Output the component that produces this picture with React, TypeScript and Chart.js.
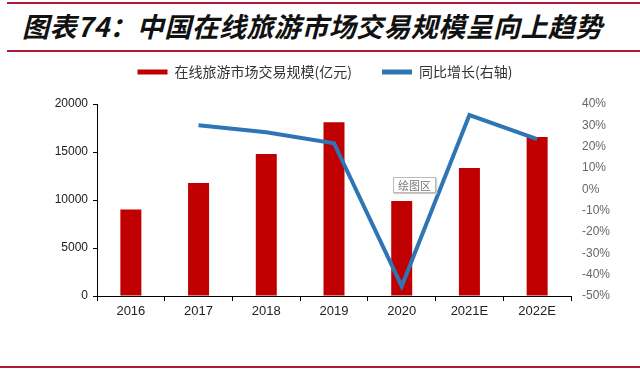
import React, { useEffect, useRef } from "react";
import { Chart, registerables } from "chart.js";

Chart.register(...registerables);

const categories = ["2016", "2017", "2018", "2019", "2020", "2021E", "2022E"];
const scaleValues = [9000, 11770, 14800, 18100, 9900, 13330, 16560];
const growthValues: (number | null)[] = [null, 30, 26.8, 21.6, -45.4, 34.8, 23.5];
const barLabel = "在线旅游市场交易规模(亿元)";
const lineLabel = "同比增长(右轴)";
const titleText = "图表74：中国在线旅游市场交易规模呈向上趋势";

const RED = "#C00000";
const BLUE = "#2E75B6";
const RULE = "#B0183C";

export default function App() {
  const ref = useRef<HTMLCanvasElement | null>(null);

  useEffect(() => {
    if (!ref.current) return;
    const legendHeightPlugin = {
      id: "legendHeight",
      beforeLayout(chart: any) {
        const lg = chart.legend;
        if (lg && !lg.__wrapped) {
          const orig = lg.fit;
          lg.fit = function () {
            orig.call(this);
            this.height = 69;
            if (this.lineWidths && this.lineWidths.length) this.lineWidths[0] -= 10;
          };
          lg.__wrapped = true;
        }
      },
    };
    const chart = new Chart(ref.current, {
      type: "bar",
      data: {
        labels: categories,
        datasets: [
          {
            type: "bar",
            label: barLabel,
            data: scaleValues,
            backgroundColor: RED,
            borderWidth: 0,
            barPercentage: 0.31,
            categoryPercentage: 1,
            yAxisID: "y",
            order: 2,
          },
          {
            type: "line",
            label: lineLabel,
            data: growthValues,
            borderColor: BLUE,
            backgroundColor: BLUE,
            borderWidth: 4,
            pointRadius: 0,
            tension: 0,
            yAxisID: "y1",
            order: 1,
          } as any,
        ],
      },
      options: {
        responsive: false,
        animation: false,
        layout: { padding: 0 },
        plugins: {
          tooltip: { enabled: false },
          legend: {
            display: true,
            position: "top",
            labels: {
              boxWidth: 30,
              boxHeight: 5,
              padding: 30,
              color: "#333",
              font: { family: "'Noto Sans CJK SC'", size: 14 },
              sort: (a: any, b: any) => a.datasetIndex - b.datasetIndex,
              generateLabels: (c: any) =>
                Chart.defaults.plugins.legend.labels
                  .generateLabels(c)
                  .map((l: any) => ({ ...l, lineWidth: 0 })),
            },
          },
        },
        scales: {
          x: {
            offset: true,
            grid: {
              display: true,
              offset: true,
              drawOnChartArea: false,
              drawTicks: true,
              tickLength: 5,
              color: "#000",
            },
            border: { display: true, color: "#000", width: 1 },
            ticks: {
              color: "#222",
              padding: 3,
              font: { family: "'Liberation Sans'", size: 13 },
            },
            afterFit: (s: any) => {
              s.height = 40;
            },
          },
          y: {
            position: "left",
            min: 0,
            max: 20000,
            grid: {
              display: true,
              drawOnChartArea: false,
              drawTicks: true,
              tickLength: 4,
              color: "#000",
            },
            border: { display: true, color: "#000", width: 1 },
            ticks: {
              stepSize: 5000,
              color: "#222",
              padding: 5,
              font: { family: "'Liberation Sans'", size: 12 },
              callback: (v: any) => String(v),
            },
            afterFit: (s: any) => {
              s.width = 97;
            },
          },
          y1: {
            position: "right",
            min: -50,
            max: 40,
            grid: { display: false, drawOnChartArea: false, drawTicks: false },
            border: { display: false },
            ticks: {
              stepSize: 10,
              color: "#666",
              padding: 11,
              font: { family: "'Liberation Sans'", size: 12 },
              callback: (v: any) => `${v}%`,
            },
            afterFit: (s: any) => {
              s.width = 69;
            },
          },
        },
      },
      plugins: [legendHeightPlugin],
    });
    return () => chart.destroy();
  }, []);

  return (
    <div
      style={{
        position: "absolute",
        left: 0,
        top: 0,
        width: 640,
        height: 370,
        background: "#fff",
        overflow: "hidden",
      }}
    >
      <div style={{ position: "absolute", left: 7, right: 0, top: 2, height: 2, background: RULE }} />
      <div
        style={{
          position: "absolute",
          left: 22,
          top: 9,
          fontFamily: "'Noto Sans CJK SC'",
          fontWeight: 700,
          fontStyle: "italic",
          fontSize: 27,
          letterSpacing: "0.4px",
          lineHeight: "34px",
          color: "#111",
          whiteSpace: "nowrap",
        }}
      >
        {titleText}
      </div>
      <div style={{ position: "absolute", left: 7, right: 0, top: 50, height: 2, background: RULE }} />
      <div style={{ position: "absolute", left: 0, top: 35 }}>
        <canvas ref={ref} width={640} height={301} style={{ display: "block" }} />
      </div>
      <div
        style={{
          position: "absolute",
          left: 393,
          top: 177,
          border: "1px solid #bbb",
          boxShadow: "1px 1px 1px #ccc",
          background: "#fff",
          color: "#777",
          fontFamily: "'Noto Sans CJK SC'",
          fontSize: 11,
          lineHeight: "14px",
          padding: "0px 4px",
        }}
      >
        绘图区
      </div>
      <div style={{ position: "absolute", left: 0, right: 0, top: 366, height: 2, background: RULE }} />
    </div>
  );
}
